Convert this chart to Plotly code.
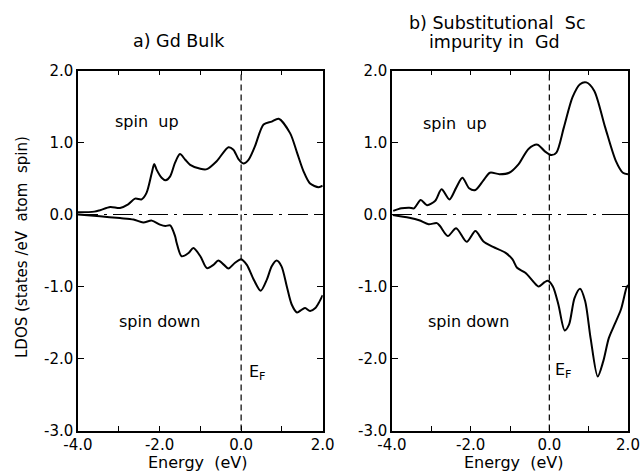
import plotly.graph_objects as go

# Local density of states, energies in eV relative to E_F
gd_up_e = [-4.0, -3.6, -3.46, -3.21, -2.97, -2.77, -2.6, -2.44, -2.32, -2.19, -2.13,
           -2.07, -1.95, -1.85, -1.74, -1.62, -1.5, -1.37, -1.25, -1.0, -0.84, -0.6,
           -0.31, -0.19, -0.065, 0.057, 0.18, 0.34, 0.55, 0.75, 0.92, 1.2, 1.37,
           1.53, 1.69, 1.9, 2.0]
gd_up_v = [0.03, 0.04, 0.06, 0.105, 0.09, 0.14, 0.22, 0.21, 0.30, 0.58, 0.70,
           0.62, 0.51, 0.475, 0.53, 0.72, 0.84, 0.76, 0.69, 0.635, 0.63, 0.74,
           0.935, 0.90, 0.77, 0.71, 0.76, 0.95, 1.25, 1.29, 1.33, 1.13, 0.86,
           0.60, 0.43, 0.38, 0.40]

gd_dn_e = [-4.0, -3.46, -2.97, -2.64, -2.4, -2.19, -1.99, -1.86, -1.74, -1.62, -1.58,
           -1.46, -1.29, -1.17, -1.0, -0.84, -0.68, -0.56, -0.42, -0.31, -0.15, 0.0,
           0.14, 0.31, 0.48, 0.63, 0.75, 0.87, 0.99, 1.12, 1.24, 1.37, 1.49, 1.57,
           1.69, 1.82, 1.92, 2.0]
gd_dn_v = [0.0, -0.025, -0.05, -0.07, -0.11, -0.085, -0.14, -0.16, -0.15, -0.30, -0.395,
           -0.58, -0.535, -0.465, -0.58, -0.745, -0.70, -0.64, -0.70, -0.75, -0.67, -0.62,
           -0.70, -0.905, -1.06, -0.905, -0.72, -0.64, -0.72, -1.0, -1.25, -1.36, -1.32, -1.30,
           -1.34, -1.30, -1.21, -1.12]

sc_up_e = [-3.97, -3.76, -3.56, -3.44, -3.27, -3.11, -2.9, -2.74, -2.54, -2.37, -2.21,
           -2.04, -1.88, -1.68, -1.51, -1.27, -1.02, -0.78, -0.53, -0.3, -0.12, 0.05,
           0.18, 0.37, 0.59, 0.78, 0.94, 1.14, 1.42, 1.69, 1.87, 2.0]
sc_up_v = [0.05, 0.086, 0.095, 0.086, 0.20, 0.13, 0.19, 0.35, 0.21, 0.37, 0.51,
           0.365, 0.34, 0.47, 0.58, 0.56, 0.58, 0.70, 0.91, 0.97, 0.88, 0.825,
           0.86, 1.21, 1.63, 1.81, 1.835, 1.72, 1.21, 0.745, 0.58, 0.56]

sc_dn_e = [-3.98, -3.56, -3.31, -3.07, -2.86, -2.78, -2.58, -2.37, -2.1, -1.88, -1.68,
           -1.43, -1.12, -0.94, -0.82, -0.61, -0.41, -0.27, -0.12, -0.04, 0.09, 0.23,
           0.39, 0.5, 0.64, 0.78, 0.91, 1.05, 1.23, 1.37, 1.51, 1.64, 1.82, 1.96, 2.0]
sc_dn_v = [-0.007, -0.045, -0.08, -0.135, -0.12, -0.16, -0.30, -0.19, -0.38, -0.23, -0.37,
           -0.45, -0.53, -0.62, -0.74, -0.81, -0.93, -1.0, -0.94, -0.92, -1.0, -1.25,
           -1.61, -1.53, -1.16, -1.03, -1.20, -1.72, -2.25, -2.04, -1.72, -1.55, -1.32, -1.02, -0.98]

x_ticks = [-4, -2, 0, 2]
x_text = ["-4.0", "-2.0", "0.0", "2.0"]
x_minor = [-3, -1, 1]
y_ticks = [-3, -2, -1, 0, 1, 2]
y_text = ["-3.0", "-2.0", "-1.0", "0.0", "1.0", "2.0"]

W, H = 641, 474
FONT = "DejaVu Sans"
NB = "\u00a0"

fig = go.Figure()
line = dict(color="black", width=2, shape="spline", smoothing=0.8)
for xs, ys, xa, ya in [(gd_up_e, gd_up_v, "x", "y"), (gd_dn_e, gd_dn_v, "x", "y"),
                       (sc_up_e, sc_up_v, "x2", "y2"), (sc_dn_e, sc_dn_v, "x2", "y2")]:
    fig.add_trace(go.Scatter(x=xs, y=ys, mode="lines", line=line,
                             xaxis=xa, yaxis=ya, showlegend=False, hoverinfo="skip"))


def px_x(p):
    return p / W


def px_y(p):
    return 1 - p / H


y_dom = [px_y(430.5), px_y(70.5)]
common_x = dict(range=[-4, 2], tickvals=x_ticks, ticktext=x_text, ticks="inside",
                ticklen=5, tickwidth=1.2, tickcolor="black", showline=True,
                minor=dict(tickvals=x_minor, ticks="inside", ticklen=5, tickwidth=1.2,
                           tickcolor="black", showgrid=False),
                linewidth=1.5, linecolor="black", mirror="ticks", showgrid=False,
                zeroline=False, automargin=False,
                tickfont=dict(family=FONT, size=15, color="black"))
common_y = dict(range=[-3, 2], tickvals=y_ticks, ticktext=y_text, ticks="inside",
                ticklen=6, tickwidth=1.2, tickcolor="black", showline=True,
                linewidth=1.5, linecolor="black", mirror="ticks", showgrid=False,
                zeroline=False, domain=y_dom, automargin=False,
                tickfont=dict(family=FONT, size=15, color="black"))

fig.update_layout(
    width=W, height=H, margin=dict(l=0, r=0, t=0, b=0, autoexpand=False),
    paper_bgcolor="white", plot_bgcolor="white",
    xaxis=dict(domain=[px_x(78), px_x(322.7)], anchor="y", **common_x),
    yaxis=dict(anchor="x", **common_y),
    xaxis2=dict(domain=[px_x(392), px_x(628)], anchor="y2", **common_x),
    yaxis2=dict(anchor="x2", **common_y),
)

# Reference lines: E_F (dashed) and zero (dash-dot)
for xr, yr in [("x", "y"), ("x2", "y2")]:
    fig.add_shape(type="line", xref=xr, yref=yr, x0=0, x1=0, y0=-3, y1=2,
                  line=dict(color="black", width=1.2, dash="6px,4px"), layer="below")
    fig.add_shape(type="line", xref=xr, yref=yr, x0=-4, x1=2, y0=0, y1=0,
                  line=dict(color="black", width=1, dash="20px,6px,3px,6px"), layer="below")

txt = dict(family=FONT, size=16, color="black")
labels = [
    ("x", "y", -2.3, 1.29, "spin" + NB * 2 + "up", "center"),
    ("x", "y", -2.0, -1.49, "spin down", "center"),
    ("x", "y", 0.15, -2.19, "E<sub>F</sub>", "left"),
    ("x2", "y2", -2.4, 1.27, "spin" + NB * 2 + "up", "center"),
    ("x2", "y2", -2.05, -1.48, "spin down", "center"),
    ("x2", "y2", 0.1, -2.17, "E<sub>F</sub>", "left"),
]
for xr, yr, x, y, t, anc in labels:
    fig.add_annotation(xref=xr, yref=yr, x=x, y=y, text=t, showarrow=False,
                       xanchor=anc, yanchor="middle", font=txt)

# Panel titles
title_font = dict(family=FONT, size=17.5, color="black")
titles = [
    (179, 41, "a) Gd" + NB + "Bulk"),
    (497, 23, "b) Substitutional" + NB * 2 + "Sc"),
    (495, 42, "impurity" + NB + "in" + NB * 2 + "Gd"),
]
for cx, cy, t in titles:
    fig.add_annotation(xref="paper", yref="paper", x=px_x(cx), y=px_y(cy), text=t,
                       showarrow=False, font=title_font, xanchor="center", yanchor="middle")

# Axis titles
for cx in [(78 + 322.7) / 2 - 3, (392 + 628) / 2 + 3]:
    fig.add_annotation(xref="paper", yref="paper", x=px_x(cx), y=px_y(462),
                       text="Energy" + NB * 2 + "(eV)", showarrow=False, font=txt,
                       xanchor="center", yanchor="middle")
fig.add_annotation(xref="paper", yref="paper", x=px_x(22), y=px_y(247),
                   text="LDOS (states /eV" + NB * 2 + "atom" + NB * 2 + "spin)",
                   showarrow=False, textangle=-90,
                   font=dict(family=FONT, size=15, color="black"),
                   xanchor="center", yanchor="middle")

fig.write_html("out.html")
